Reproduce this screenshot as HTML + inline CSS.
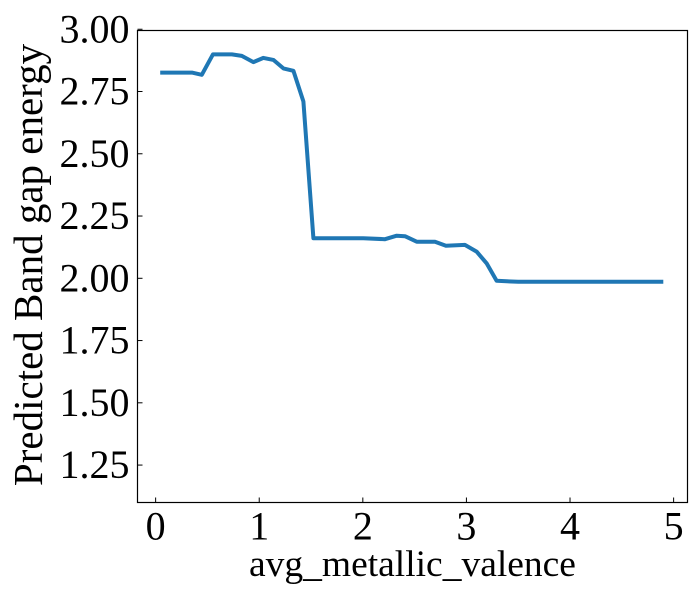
<!DOCTYPE html>
<html><head><meta charset="utf-8"><style>
html,body{margin:0;padding:0;background:#fff;}
svg{display:block;font-family:"Liberation Serif",serif;}
</style></head><body>
<svg id="chart" width="700" height="600">
<rect x="0" y="0" width="700" height="600" fill="#fff"/>
<g id="plot"></g>
</svg>
<script>
const xValues=[0.044,0.35,0.446,0.553,0.736,0.832,0.944,1.04,1.137,1.233,1.33,1.426,1.523,2.005,2.214,2.327,2.407,2.52,2.697,2.802,2.985,3.098,3.195,3.291,3.5,4.9];
const yValues=[2.826,2.826,2.817,2.899,2.899,2.893,2.868,2.885,2.877,2.843,2.833,2.710,2.161,2.161,2.157,2.171,2.169,2.147,2.147,2.131,2.134,2.107,2.060,1.990,1.986,1.986];
const xTicks=[0,1,2,3,4,5];
const yTicks=[1.25,1.5,1.75,2.0,2.25,2.5,2.75,3.0];
const yTickLabels=["1.25","1.50","1.75","2.00","2.25","2.50","2.75","3.00"];
const L=137.5,R=687.5,T=30.5,B=502.5;
const xMin=-0.175,xMax=5.134,yMin=1.0997,yMax=2.995;
function sx(v){return L+(v-xMin)/(xMax-xMin)*(R-L);}
function sy(v){return B-(v-yMin)/(yMax-yMin)*(B-T);}
const NS="http://www.w3.org/2000/svg";
const g=document.getElementById('plot');
function mk(tag,attrs){const e=document.createElementNS(NS,tag);for(const k in attrs)e.setAttribute(k,attrs[k]);g.appendChild(e);return e;}
const pts=xValues.map((x,i)=>sx(x).toFixed(1)+','+sy(yValues[i]).toFixed(1)).join(' ');
const line=mk('polyline',{points:pts,fill:'none',stroke:'#1f77b4','stroke-width':4,'stroke-linejoin':'round','stroke-linecap':'butt'});


const frame=mk('rect',{x:L,y:T,width:R-L,height:B-T,fill:'none',stroke:'#000','stroke-width':1.2});


xTicks.forEach(t=>{
  const x=sx(t);
  const tk=mk('line',{x1:x,x2:x,y1:B,y2:B-5,stroke:'#000','stroke-width':1});
  
  
  const tx=mk('text',{x:x,y:B+37,'text-anchor':'middle','font-size':40,fill:'#000'});
  tx.textContent=String(t);
  
  
});
yTicks.forEach((t,i)=>{
  const y=sy(t);
  const tk=mk('line',{x1:L,x2:L+5,y1:y,y2:y,stroke:'#000','stroke-width':1});
  
  
  const tx=mk('text',{x:L-8,y:y+13,'text-anchor':'end','font-size':40,fill:'#000'});
  tx.textContent=yTickLabels[i];
  
  
});
const xl=mk('text',{x:(L+R)/2,y:576,'text-anchor':'middle','font-size':37.5,fill:'#000'});
xl.textContent='avg_metallic_valence';


const yl=mk('text',{x:0,y:0,'text-anchor':'middle','font-size':41,fill:'#000',transform:'translate(42,265) rotate(-90)'});
yl.textContent='Predicted Band gap energy';


</script>
</body></html>
